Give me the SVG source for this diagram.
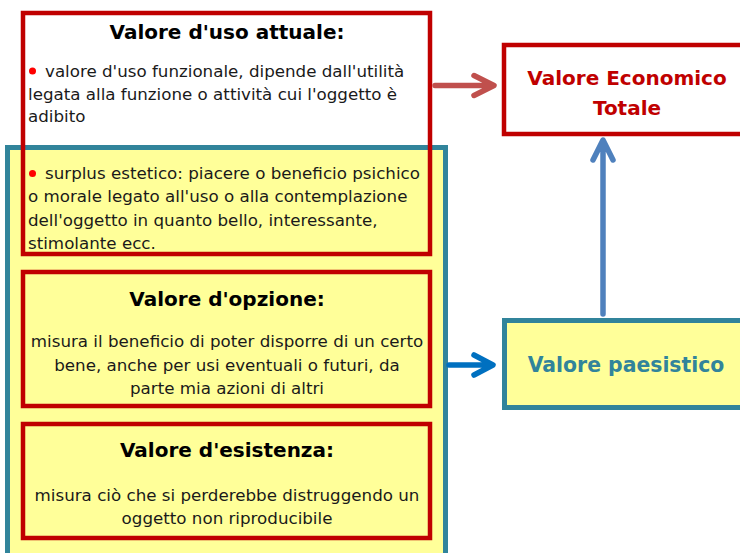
<svg xmlns="http://www.w3.org/2000/svg" width="740" height="553" viewBox="0 0 740 553">
<style>
.red{fill:none;stroke:#C00000;stroke-width:4.5}
.teal{fill:#FFFF99;stroke:#31849B;stroke-width:5}
.t{font-family:"DejaVu Sans",Verdana,sans-serif;font-size:16.7px;fill:#1a1a1a}
.h{font-family:"DejaVu Sans",Verdana,sans-serif;font-size:20px;font-weight:bold;fill:#000;text-anchor:middle}
.c{text-anchor:middle}
.arr{fill:none;stroke-width:5.5;stroke-linecap:round;stroke-linejoin:round}
</style>
<rect width="740" height="553" fill="#fff"/>
<g id="landscape-group">
<rect class="teal" x="7.5" y="147.5" width="438" height="420"/>
</g>
<g id="uso-attuale">
<rect class="red" x="23" y="13" width="407" height="241"/>
<text class="h" x="227" y="39">Valore d'uso attuale:</text>
<circle cx="32.5" cy="71" r="3.5" fill="#FF0000"/>
<text class="t" x="45" y="77">valore d'uso funzionale, dipende dall'utilità</text>
<text class="t" x="28" y="100">legata alla funzione o attività cui l'oggetto è</text>
<text class="t" x="28" y="122">adibito</text>
<circle cx="32.5" cy="173.5" r="3.5" fill="#FF0000"/>
<text class="t" x="45" y="179">surplus estetico: piacere o beneficio psichico</text>
<text class="t" x="28" y="202">o morale legato all'uso o alla contemplazione</text>
<text class="t" x="28" y="226">dell'oggetto in quanto bello, interessante,</text>
<text class="t" x="28" y="249">stimolante ecc.</text>
</g>
<g id="opzione">
<rect class="red" x="23" y="272" width="407" height="134"/>
<text class="h" x="227" y="306">Valore d'opzione:</text>
<text class="t c" x="227" y="347">misura il beneficio di poter disporre di un certo</text>
<text class="t c" x="227" y="371">bene, anche per usi eventuali o futuri, da</text>
<text class="t c" x="227" y="394">parte mia azioni di altri</text>
</g>
<g id="esistenza">
<rect class="red" x="23" y="424" width="407" height="114"/>
<text class="h" x="227" y="457">Valore d'esistenza:</text>
<text class="t c" x="227" y="501">misura ciò che si perderebbe distruggendo un</text>
<text class="t c" x="227" y="524">oggetto non riproducibile</text>
</g>
<g id="vet">
<rect class="red" x="504" y="45" width="260" height="89"/>
<text class="h" x="627" y="85" style="fill:#C00000">Valore Economico</text>
<text class="h" x="627" y="115" style="fill:#C00000">Totale</text>
</g>
<g id="paesistico">
<rect class="teal" x="504.5" y="320.5" width="260" height="87"/>
<text class="h" x="626" y="372" style="fill:#31849B;font-size:20.4px">Valore paesistico</text>
</g>
<g id="connectors">
<path class="arr" stroke="#C0504D" d="M435 85.5H493M474 75.5L494 85.5L474 95.5"/>
<path class="arr" stroke="#4F81BD" d="M603 314V142M593 160L603 140L613 160"/>
<path class="arr" stroke="#0070C0" d="M449 365H491M474 355L493 365L474 375"/>
</g>
</svg>
